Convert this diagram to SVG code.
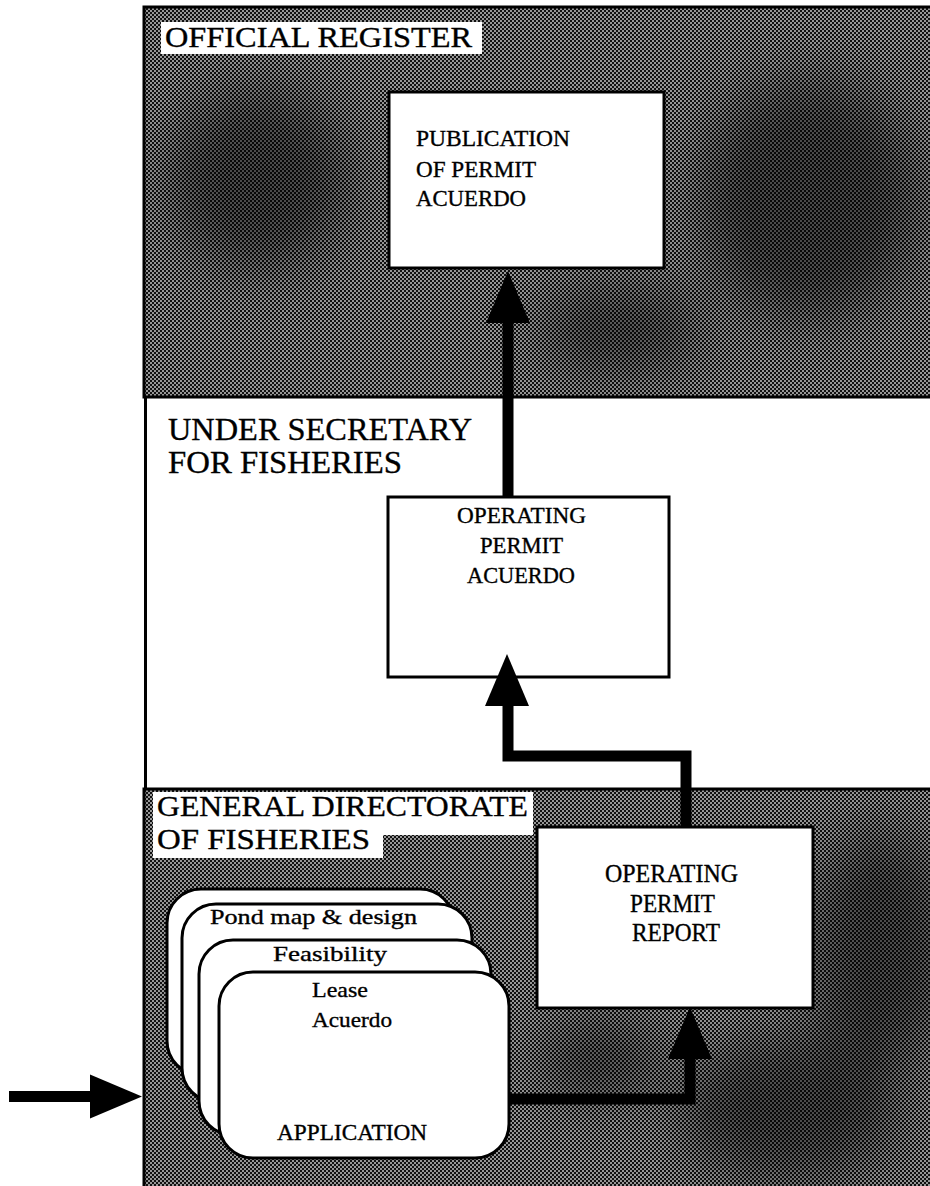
<svg xmlns="http://www.w3.org/2000/svg" width="930" height="1186" viewBox="0 0 930 1186">
  <style>
    .t { font-family: "Liberation Serif", "Times New Roman", serif; fill: #000; stroke: #000; stroke-width: 0.35; }
    .lbl { fill: #fff; }
    .box { fill: #fff; stroke: #000; stroke-width: 3; }
    .card { fill: #fff; stroke: #000; stroke-width: 3; }
    .conn { fill: none; stroke: #000; stroke-width: 11; stroke-linejoin: miter; stroke-linecap: butt; }
    .head { fill: #000; }
  </style>
  <defs>
    <pattern id="ht" width="4" height="4" patternUnits="userSpaceOnUse">
      <rect width="4" height="4" fill="#111"/>
      <circle cx="1" cy="1" r="0.95" fill="#d0d0d0"/>
      <circle cx="3" cy="3" r="0.95" fill="#d0d0d0"/>
    </pattern>
    <filter id="blur" x="-50%" y="-50%" width="200%" height="200%">
      <feGaussianBlur stdDeviation="28"/>
    </filter>
    <clipPath id="clipTop"><rect x="144" y="7" width="790" height="390"/></clipPath>
    <clipPath id="clipBot"><rect x="144" y="789" width="790" height="400"/></clipPath>
    <path id="ah" d="M0,0 L-22,52 L22,52 Z"/>
  </defs>

  <rect width="930" height="1186" fill="#fff"/>

  <!-- Official register panel -->
  <g id="panel-official-register">
    <rect x="144" y="7" width="790" height="390" fill="url(#ht)"/>
    <g clip-path="url(#clipTop)">
      <g filter="url(#blur)" fill="#000" opacity="0.5">
        <ellipse cx="260" cy="180" rx="90" ry="90"/>
        <ellipse cx="810" cy="200" rx="110" ry="120"/>
        <ellipse cx="620" cy="330" rx="80" ry="40"/>
      </g>
    </g>
    <rect x="144" y="7" width="790" height="390" fill="none" stroke="#000" stroke-width="3"/>
    <rect class="lbl" x="161" y="22" width="321" height="32"/>
    <text class="t" x="165" y="47" font-size="29" textLength="307" lengthAdjust="spacingAndGlyphs">OFFICIAL REGISTER</text>
  </g>

  <!-- Under secretary region -->
  <g id="panel-under-secretary">
    <line x1="145.5" y1="397" x2="145.5" y2="790" stroke="#000" stroke-width="3"/>
    <text class="t" x="168" y="440" font-size="32" textLength="304" lengthAdjust="spacingAndGlyphs">UNDER SECRETARY</text>
    <text class="t" x="168" y="473" font-size="32" textLength="234" lengthAdjust="spacingAndGlyphs">FOR FISHERIES</text>
  </g>

  <!-- General directorate panel -->
  <g id="panel-general-directorate">
    <rect x="144" y="789" width="790" height="400" fill="url(#ht)"/>
    <g clip-path="url(#clipBot)">
      <g filter="url(#blur)" fill="#000" opacity="0.5">
        <ellipse cx="880" cy="950" rx="70" ry="120"/>
        <ellipse cx="790" cy="1110" rx="110" ry="70"/>
        <ellipse cx="600" cy="1060" rx="60" ry="40"/>
      </g>
    </g>
    <rect x="144" y="789" width="790" height="400" fill="none" stroke="#000" stroke-width="3"/>
    <path class="lbl" d="M153,792 H533 V835 H383 V858 H153 Z"/>
    <text class="t" x="157" y="816" font-size="29" textLength="371" lengthAdjust="spacingAndGlyphs">GENERAL DIRECTORATE</text>
    <text class="t" x="157" y="849" font-size="29" textLength="213" lengthAdjust="spacingAndGlyphs">OF FISHERIES</text>
  </g>

  <g id="node-publication">
    <rect class="box" x="389" y="92" width="275" height="176"/>
    <text class="t" x="416" y="146" font-size="23" textLength="154" lengthAdjust="spacingAndGlyphs">PUBLICATION</text>
    <text class="t" x="416" y="177" font-size="23" textLength="120" lengthAdjust="spacingAndGlyphs">OF PERMIT</text>
    <text class="t" x="416" y="206" font-size="23" textLength="110" lengthAdjust="spacingAndGlyphs">ACUERDO</text>
  </g>

  <g id="node-operating-permit-acuerdo">
    <rect class="box" x="388" y="497" width="281" height="180"/>
    <text class="t" x="457" y="523" font-size="23" textLength="129" lengthAdjust="spacingAndGlyphs">OPERATING</text>
    <text class="t" x="480" y="553" font-size="23" textLength="83" lengthAdjust="spacingAndGlyphs">PERMIT</text>
    <text class="t" x="467" y="583" font-size="23" textLength="108" lengthAdjust="spacingAndGlyphs">ACUERDO</text>
  </g>

  <g id="node-operating-permit-report">
    <rect class="box" x="537" y="827" width="276" height="181"/>
    <text class="t" x="605" y="882" font-size="25" textLength="133" lengthAdjust="spacingAndGlyphs">OPERATING</text>
    <text class="t" x="630" y="912" font-size="25" textLength="85" lengthAdjust="spacingAndGlyphs">PERMIT</text>
    <text class="t" x="632" y="941" font-size="25" textLength="88" lengthAdjust="spacingAndGlyphs">REPORT</text>
  </g>

  <g id="node-application-stack">
    <rect class="card" x="167" y="889" width="287" height="186" rx="34"/>
    <rect class="card" x="182" y="904" width="290" height="198" rx="34"/>
    <text class="t" x="210" y="924" font-size="22" textLength="207" lengthAdjust="spacingAndGlyphs">Pond map &amp; design</text>
    <rect class="card" x="199" y="940" width="292" height="195" rx="34"/>
    <text class="t" x="273" y="961" font-size="22" textLength="114" lengthAdjust="spacingAndGlyphs">Feasibility</text>
    <rect class="card" x="219" y="972" width="290" height="186" rx="34"/>
    <text class="t" x="312" y="997" font-size="22" textLength="56" lengthAdjust="spacingAndGlyphs">Lease</text>
    <text class="t" x="312" y="1027" font-size="22" textLength="80" lengthAdjust="spacingAndGlyphs">Acuerdo</text>
    <text class="t" x="277" y="1140" font-size="23" textLength="150" lengthAdjust="spacingAndGlyphs">APPLICATION</text>
  </g>

  <!-- Connectors -->
  <g id="connectors">
    <path class="conn" d="M508,497 V322"/>
    <use href="#ah" class="head" x="508" y="271"/>
    <path class="conn" d="M686,827 V756 H508 V704"/>
    <use href="#ah" class="head" x="507" y="654"/>
    <path class="conn" d="M510,1099 H690 V1054"/>
    <use href="#ah" class="head" x="690" y="1007"/>
    <path class="conn" d="M9,1096.5 H92" stroke-width="13"/>
    <use href="#ah" class="head" transform="translate(142,1096.5) rotate(90)"/>
  </g>
</svg>
